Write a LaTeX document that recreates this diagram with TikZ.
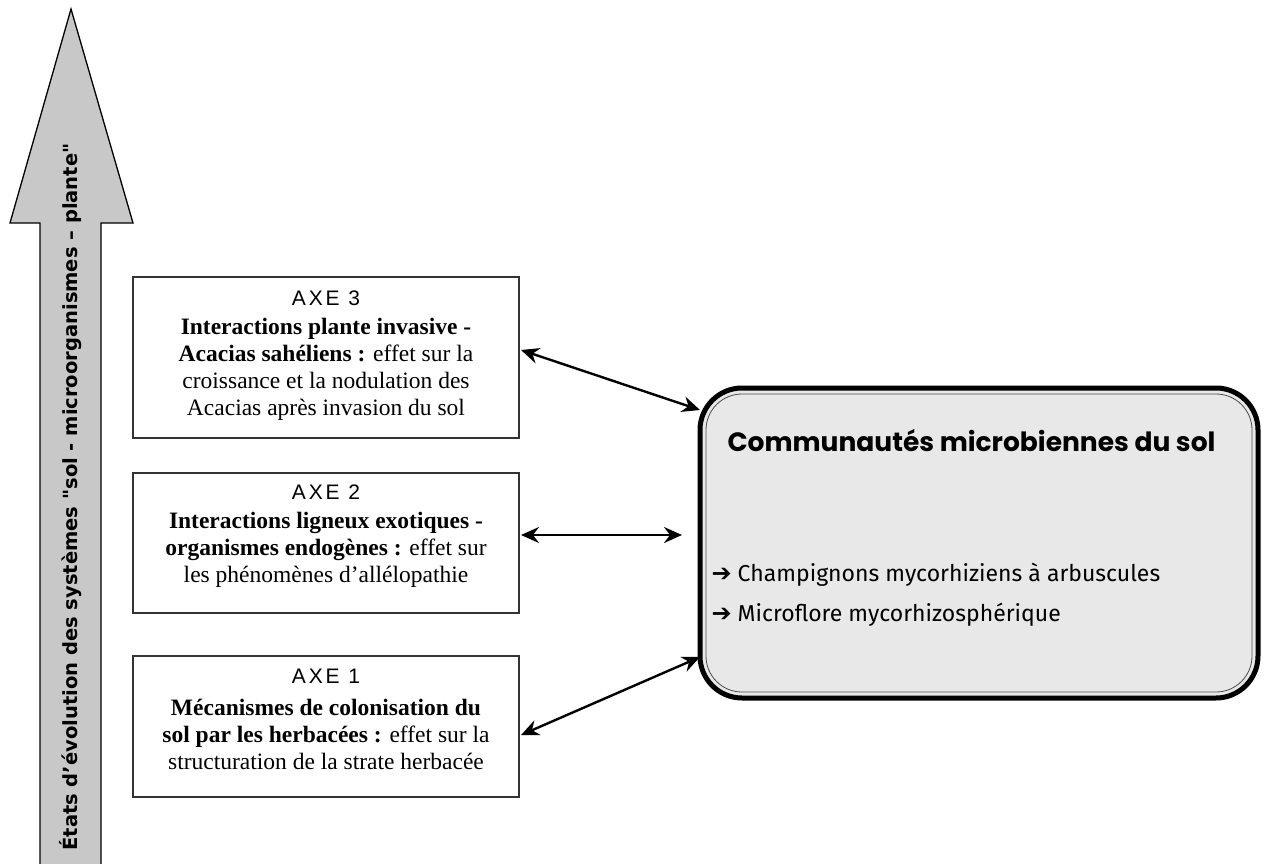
\documentclass[tikz,border=0pt]{standalone}
\usepackage{fontspec}
\setmainfont{Liberation Serif}
\newfontfamily\axefont[LetterSpace=14]{Liberation Sans}
\newfontfamily\vertfont{DejaVu Sans}
\newfontfamily\titlefont{Poppins}
\newfontfamily\itemfont{Fira Sans}
\newfontfamily\symfont{DejaVu Sans}
\usetikzlibrary{arrows.meta}
\definecolor{arrowgray}{HTML}{C8C8C8}
\definecolor{boxgray}{HTML}{E8E8E8}
\tikzset{
  link/.style={line width=2.4pt, {Stealth[length=18pt,width=16pt,inset=6pt]}-{Stealth[length=18pt,width=16pt,inset=6pt]}},
  bodytext/.style={font=\fontsize{23.5}{27}\selectfont, align=center},
  axetext/.style={font=\axefont\fontsize{21}{22}\selectfont},
  itemtext/.style={font=\itemfont\fontsize{23}{26}\selectfont, anchor=west}
}
\newcommand{\bularrow}{{\symfont\bfseries\fontsize{24}{26}\selectfont ➔}}
\begin{document}
\begin{tikzpicture}[x=1pt,y=-1pt]
\useasboundingbox (0,0) rectangle (1272,864);
% big vertical arrow
\draw[fill=arrowgray, line width=1.3pt, line join=miter]
  (40,866) -- (40,223) -- (10,223) -- (71,9) -- (133,223) -- (101,223) -- (101,866);
\node[rotate=90, font=\vertfont\bfseries\fontsize{19.5}{21}\selectfont] (vlabel) at (71,497)
  {États d’évolution des systèmes "sol - microorganismes – plante"};
% axis boxes
\draw[draw=black!80, line width=1.3pt] (133,277) rectangle (519,438);
\draw[draw=black!80, line width=1.3pt] (133,473) rectangle (519,613);
\draw[draw=black!80, line width=1.3pt] (133,656) rectangle (519,797);
\node[axetext] (t3) at (326,298) {AXE 3};
\node[bodytext] (x3) at (326,369) {\textbf{Interactions plante invasive -}\\\textbf{Acacias sahéliens :} effet sur la\\croissance et la nodulation des\\Acacias après invasion du sol};
\node[axetext] (t2) at (326,492) {AXE 2};
\node[bodytext] (x2) at (326,550) {\textbf{Interactions ligneux exotiques -}\\\textbf{organismes endogènes :} effet sur\\les phénomènes d’allélopathie};
\node[axetext] (t1) at (326,676) {AXE 1};
\node[bodytext] (x1) at (326,734) {\textbf{Mécanismes de colonisation du}\\\textbf{sol par les herbacées :} effet sur la\\structuration de la strate herbacée};
% big box
\draw[fill=boxgray, line width=5pt, rounded corners=42pt] (700,388) rectangle (1258,698);
\draw[line width=0.8pt, draw=black!70, rounded corners=36pt] (706,394) rectangle (1252,692);
\node[font=\titlefont\bfseries\fontsize{26.5}{28}\selectfont, anchor=west] (title) at (724,441) {Communautés microbiennes du sol};
\node[itemtext] (i1) at (708,575) {\bularrow\ Champignons mycorhiziens à arbuscules};
\node[itemtext] (i2) at (708,615) {\bularrow\ Microflore mycorhizosphérique};
\coordinate (c3) at (700,410);
\coordinate (c2) at (682,535);
\coordinate (c1) at (700,657);
\coordinate (a3) at (521,350);
\coordinate (a2) at (521,535);
\coordinate (a1) at (521,735);
\draw[link] (a3) -- (c3);
\draw[link] (a2) -- (c2);
\draw[link] (a1) -- (c1);
\end{tikzpicture}
\end{document}
